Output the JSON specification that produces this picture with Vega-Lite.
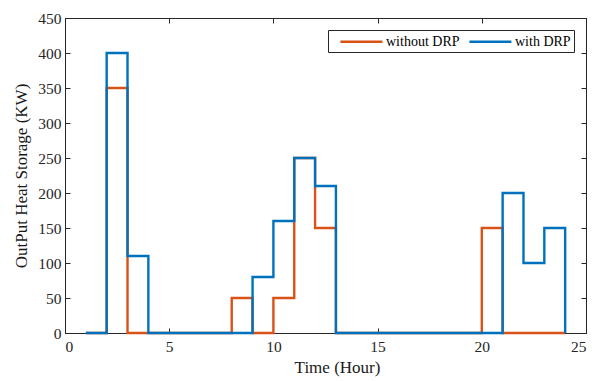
{
  "$schema": "https://vega.github.io/schema/vega-lite/v6.json",
  "width": 521,
  "height": 315,
  "autosize": "none",
  "padding": {"left": 65, "top": 18, "right": 6, "bottom": 48},
  "background": "white",
  "config": {
    "view": {"stroke": "#262626", "strokeWidth": 1},
    "font": "Liberation Serif",
    "axis": {
      "domainColor": "#262626",
      "tickColor": "#262626",
      "labelColor": "#262626",
      "titleColor": "#1a1a1a",
      "labelFont": "Liberation Serif",
      "titleFont": "Liberation Serif",
      "labelFontSize": 15.5,
      "titleFontSize": 17,
      "titleFontWeight": "normal",
      "labelOverlap": false,
      "grid": false,
      "tickSize": -5
    }
  },
  "data": {
    "values": [
      {"t": 1, "v": 0, "s": "without DRP"},
      {"t": 2, "v": 350, "s": "without DRP"},
      {"t": 3, "v": 0, "s": "without DRP"},
      {"t": 4, "v": 0, "s": "without DRP"},
      {"t": 5, "v": 0, "s": "without DRP"},
      {"t": 6, "v": 0, "s": "without DRP"},
      {"t": 7, "v": 0, "s": "without DRP"},
      {"t": 8, "v": 50, "s": "without DRP"},
      {"t": 9, "v": 0, "s": "without DRP"},
      {"t": 10, "v": 50, "s": "without DRP"},
      {"t": 11, "v": 250, "s": "without DRP"},
      {"t": 12, "v": 150, "s": "without DRP"},
      {"t": 13, "v": 0, "s": "without DRP"},
      {"t": 14, "v": 0, "s": "without DRP"},
      {"t": 15, "v": 0, "s": "without DRP"},
      {"t": 16, "v": 0, "s": "without DRP"},
      {"t": 17, "v": 0, "s": "without DRP"},
      {"t": 18, "v": 0, "s": "without DRP"},
      {"t": 19, "v": 0, "s": "without DRP"},
      {"t": 20, "v": 150, "s": "without DRP"},
      {"t": 21, "v": 0, "s": "without DRP"},
      {"t": 22, "v": 0, "s": "without DRP"},
      {"t": 23, "v": 0, "s": "without DRP"},
      {"t": 24, "v": 0, "s": "without DRP"},
      {"t": 1, "v": 0, "s": "with DRP"},
      {"t": 2, "v": 400, "s": "with DRP"},
      {"t": 3, "v": 110, "s": "with DRP"},
      {"t": 4, "v": 0, "s": "with DRP"},
      {"t": 5, "v": 0, "s": "with DRP"},
      {"t": 6, "v": 0, "s": "with DRP"},
      {"t": 7, "v": 0, "s": "with DRP"},
      {"t": 8, "v": 0, "s": "with DRP"},
      {"t": 9, "v": 80, "s": "with DRP"},
      {"t": 10, "v": 160, "s": "with DRP"},
      {"t": 11, "v": 250, "s": "with DRP"},
      {"t": 12, "v": 210, "s": "with DRP"},
      {"t": 13, "v": 0, "s": "with DRP"},
      {"t": 14, "v": 0, "s": "with DRP"},
      {"t": 15, "v": 0, "s": "with DRP"},
      {"t": 16, "v": 0, "s": "with DRP"},
      {"t": 17, "v": 0, "s": "with DRP"},
      {"t": 18, "v": 0, "s": "with DRP"},
      {"t": 19, "v": 0, "s": "with DRP"},
      {"t": 20, "v": 0, "s": "with DRP"},
      {"t": 21, "v": 200, "s": "with DRP"},
      {"t": 22, "v": 100, "s": "with DRP"},
      {"t": 23, "v": 150, "s": "with DRP"},
      {"t": 24, "v": 0, "s": "with DRP"}
    ]
  },
  "layer": [
    {
      "encoding": {
        "x": {"field": "t", "type": "quantitative", "scale": {"domain": [0, 25], "nice": false},
              "axis": {"title": "Time (Hour)", "values": [0, 5, 10, 15, 20, 25], "labelPadding": 11, "titlePadding": 5, "titleX": 272}},
        "y": {"field": "v", "type": "quantitative", "scale": {"domain": [0, 450], "nice": false},
              "axis": {"title": "OutPut Heat Storage (KW)", "values": [0, 50, 100, 150, 200, 250, 300, 350, 400, 450], "labelPadding": 9, "titlePadding": 7}},
        "color": {"field": "s", "type": "nominal",
                  "scale": {"domain": ["without DRP", "with DRP"], "range": ["#D95319", "#0072BD"]},
                  "legend": {"title": null, "orient": "top-right", "direction": "horizontal",
                             "symbolType": "M0.13,0H6.07", "symbolStrokeWidth": 2.5, "symbolSize": 200,
                             "labelFont": "Liberation Serif", "labelFontSize": 14, "labelColor": "#000000",
                             "strokeColor": "#262626", "fillColor": "white", "padding": 3,
                             "offset": 12, "columnPadding": -6, "labelOffset": 38}}
      },
      "layer": [
        {
          "transform": [{"filter": "datum.s === 'without DRP'"}],
          "mark": {"type": "line", "interpolate": "step-after", "strokeWidth": 2.4}
        },
        {
          "transform": [{"filter": "datum.s === 'with DRP'"}],
          "mark": {"type": "line", "interpolate": "step-after", "strokeWidth": 2.4}
        }
      ]
    },
    {
      "mark": {"type": "point", "opacity": 0},
      "encoding": {
        "x": {"field": "t", "type": "quantitative",
              "axis": {"orient": "top", "title": null, "labels": false, "values": [0, 5, 10, 15, 20, 25]}},
        "y": {"field": "v", "type": "quantitative",
              "axis": {"orient": "right", "title": null, "labels": false, "values": [0, 50, 100, 150, 200, 250, 300, 350, 400, 450]}}
      }
    }
  ],
  "resolve": {"axis": {"x": "independent", "y": "independent"}}
}
